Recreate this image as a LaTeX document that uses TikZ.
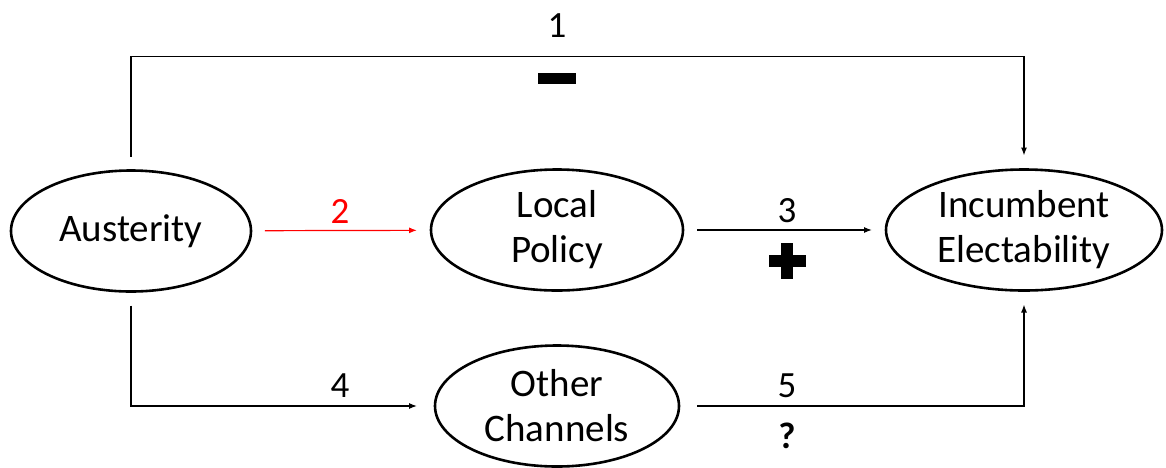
\documentclass[tikz,border=0pt]{standalone}
\usepackage{fontspec}
\setmainfont{Carlito}
\usetikzlibrary{arrows.meta, shapes.geometric, positioning}
\tikzset{
    factor/.style={ellipse, draw, line width=2.6pt, minimum width=240pt, minimum height=121pt, inner sep=0pt, outer sep=14pt, align=center, font=\fontsize{39}{45}\selectfont},
    link/.style={-{Latex[length=8pt, width=6pt]}, line width=1.2pt},
    redLink/.style={link, red},
    num/.style={inner sep=0pt, font=\fontsize{37}{45}\selectfont},
    signbar/.style={rectangle, fill=black, inner sep=0pt, minimum width=38pt, minimum height=11pt},
}

\begin{document}
\begin{tikzpicture}[x=1pt, y=-1pt]
    \useasboundingbox (0,0) rectangle (1166,467);

    % factors
    \node[factor] (aust) at (131,231) {Austerity};
    \node[factor, minimum width=252pt] (local) at (557,230) {Local\\Policy};
    \node[factor, minimum width=276pt] (inc) at (1024,230) {Incumbent\\Electability};
    \node[factor, minimum width=244pt, outer sep=18pt] (other) at (557,406) {Other\\Channels};

    % channels
    \draw[link] (aust.north) -- ++(0,-100) -| (inc.north);
    \draw[redLink] (aust) -- (local);
    \draw[link] (local) -- (inc);
    \draw[link] (aust.south) |- (other.west);
    \draw[link] (other.east) -| (inc.south);

    % labels and signs
    \node[num] (n1) at (557,26) {1};
    \node[signbar] (minus) at (557,78) {};
    \node[num, red] (n2) at (340,211) {2};
    \node[num] (n3) at (787,211) {3};
    \node[signbar, minimum width=37pt, minimum height=12pt] (plusH) at (787,261) {};
    \node[signbar, minimum width=12pt, minimum height=36pt] (plusV) at (787,261) {};
    \node[num] (n4) at (340,386) {4};
    \node[num] (n5) at (787,386) {5};
    \node[num, font=\fontsize{37}{45}\selectfont\bfseries] (query) at (787,436) {?};
\end{tikzpicture}
\end{document}
